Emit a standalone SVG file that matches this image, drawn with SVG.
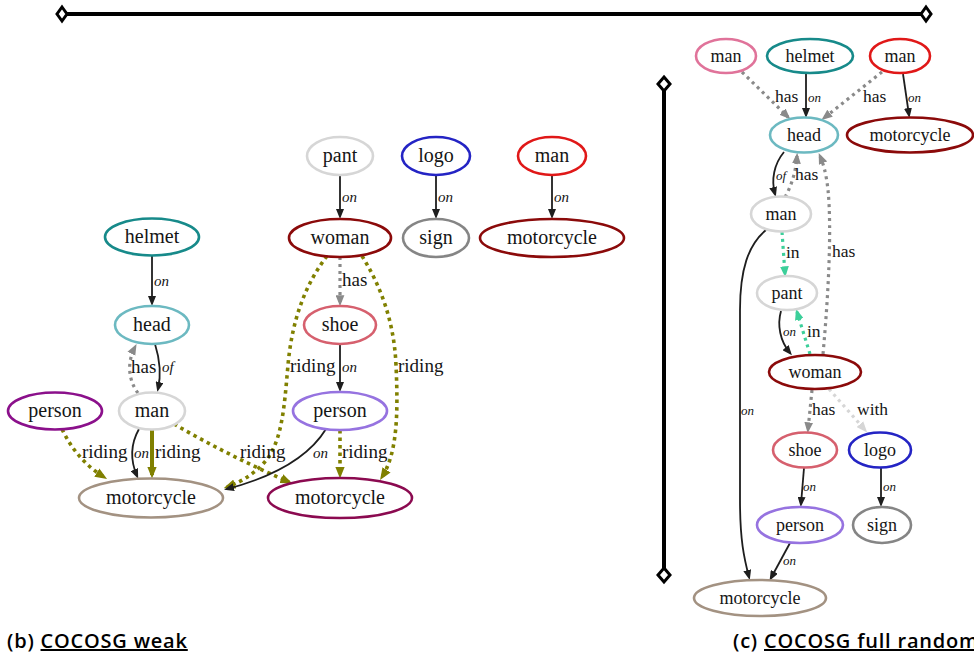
<svg xmlns="http://www.w3.org/2000/svg" width="974" height="655" viewBox="0 0 974 655">
  <style>
    .node ellipse { fill: #fff; stroke-width: 2.6; }
    text { font-family: 'Liberation Serif', 'Times New Roman', serif; fill: #151515; }
    .nl { font-size: 20px; text-anchor: middle; }
    .nr { font-size: 18px; text-anchor: middle; }
    .lab { font-size: 19px; }
    .labr { font-size: 17.5px; }
    .it { font-style: italic; font-size: 15px; }
    .itr { font-style: italic; font-size: 13px; }
    .e { fill: none; stroke: #1e1e1e; stroke-width: 1.8; }
    .olive { fill: none; stroke: #808000; stroke-width: 3.6; stroke-dasharray: 3.5 4; }
    .olive-solid { fill: none; stroke: #808000; stroke-width: 4; }
    .grey { fill: none; stroke: #8a8a8a; stroke-width: 3.2; stroke-dasharray: 3 4; }
    .green { fill: none; stroke: #3ccf9a; stroke-width: 3.2; stroke-dasharray: 3 4; }
    .light { fill: none; stroke: #d6d6d6; stroke-width: 3.2; stroke-dasharray: 3 4; }
    .rule { stroke: #000; stroke-width: 4; }
    .tip { fill: #fff; stroke: #000; stroke-width: 3; }
    text.cap { font-family: 'Open Sans', 'Noto Sans', sans-serif; font-weight: 600; font-size: 20px; letter-spacing: 0.8px; fill: #000; }
  </style>
  <defs>
    <marker id="ak" viewBox="0 0 10 8" refX="7" refY="4" markerWidth="10" markerHeight="8" markerUnits="userSpaceOnUse" orient="auto">
      <path d="M0,0 L10,4 L0,8 z" fill="#1e1e1e"/>
    </marker>
    <marker id="ao" viewBox="0 0 10 8" refX="7" refY="4" markerWidth="12" markerHeight="10" markerUnits="userSpaceOnUse" orient="auto">
      <path d="M0,0 L10,4 L0,8 z" fill="#808000"/>
    </marker>
    <marker id="ag" viewBox="0 0 10 8" refX="7" refY="4" markerWidth="11" markerHeight="9" markerUnits="userSpaceOnUse" orient="auto">
      <path d="M0,0 L10,4 L0,8 z" fill="#8a8a8a"/>
    </marker>
    <marker id="at" viewBox="0 0 10 8" refX="7" refY="4" markerWidth="11" markerHeight="9" markerUnits="userSpaceOnUse" orient="auto">
      <path d="M0,0 L10,4 L0,8 z" fill="#3ccf9a"/>
    </marker>
    <marker id="al" viewBox="0 0 10 8" refX="7" refY="4" markerWidth="11" markerHeight="9" markerUnits="userSpaceOnUse" orient="auto">
      <path d="M0,0 L10,4 L0,8 z" fill="#d6d6d6"/>
    </marker>
  </defs>

  <rect width="974" height="655" fill="#fff"/>

  <!-- section rules -->
  <g id="rules">
    <line class="rule" x1="62" y1="14" x2="926" y2="14"/>
    <path class="tip" d="M62,7 L67,14 L62,21 L57,14 z"/>
    <path class="tip" d="M926,7 L931,14 L926,21 L921,14 z"/>
    <line class="rule" x1="664" y1="84" x2="664" y2="575"/>
    <path class="tip" d="M664,77 L670,84 L664,91 L658,84 z"/>
    <path class="tip" d="M664,568 L670,575 L664,582 L658,575 z"/>
  </g>

  <!-- connectors: weak graph -->
  <g id="edges-weak">
    <path class="e" d="M152,256 L152,303" marker-end="url(#ak)"/>
    <path class="e" d="M155,344 C160,360 161,376 158,389" marker-end="url(#ak)"/>
    <path class="grey" d="M138,393 C128,380 127,362 135,347" marker-end="url(#ag)"/>
    <path class="e" d="M139,429 C130,445 131,462 137,476" marker-end="url(#ak)"/>
    <path class="olive-solid" d="M152,430 L152,475" marker-end="url(#ao)"/>
    <path class="olive" d="M62,429 C72,450 86,466 104,477" marker-end="url(#ao)"/>
    <path class="olive" d="M174,424 C210,445 250,465 289,482" marker-end="url(#ao)"/>
    <path class="olive" d="M327,256 C305,285 292,320 288,365 C284,410 282,445 262,465 C250,477 238,483 227,487" marker-end="url(#ao)"/>
    <path class="e" d="M326,429 C310,455 280,475 227,489" marker-end="url(#ak)"/>
    <path class="olive" d="M340,430 L340,475" marker-end="url(#ao)"/>
    <path class="olive" d="M362,256 C380,285 394,320 396,365 C398,410 398,452 382,477" marker-end="url(#ao)"/>
    <path class="grey" d="M340,257 L340,303" marker-end="url(#ag)"/>
    <path class="e" d="M340,344 L340,389" marker-end="url(#ak)"/>
    <path class="e" d="M340,175 L340,216" marker-end="url(#ak)"/>
    <path class="e" d="M436,175 L436,216" marker-end="url(#ak)"/>
    <path class="e" d="M552,175 L552,216" marker-end="url(#ak)"/>

    <text class="lab it" x="154" y="286">on</text>
    <text class="lab it" x="162" y="372">of</text>
    <text class="lab" x="131" y="373">has</text>
    <text class="lab it" x="134" y="458">on</text>
    <text class="lab" x="155" y="458">riding</text>
    <text class="lab" x="82" y="458">riding</text>
    <text class="lab" x="240" y="458">riding</text>
    <text class="lab" x="290" y="372">riding</text>
    <text class="lab it" x="313" y="458">on</text>
    <text class="lab" x="342" y="458">riding</text>
    <text class="lab" x="398" y="372">riding</text>
    <text class="lab" x="342" y="286">has</text>
    <text class="lab it" x="342" y="372">on</text>
    <text class="lab it" x="342" y="202">on</text>
    <text class="lab it" x="438" y="202">on</text>
    <text class="lab it" x="554" y="202">on</text>
  </g>

  <!-- nodes: weak graph -->
  <g id="w-helmet" class="node"><ellipse cx="152" cy="237" rx="47" ry="18.5" stroke="#178a8a"/><text class="nl" x="152" y="243">helmet</text></g>
  <g id="w-head" class="node"><ellipse cx="152" cy="325" rx="37" ry="19" stroke="#6cb9c1"/><text class="nl" x="152" y="331">head</text></g>
  <g id="w-man" class="node"><ellipse cx="152" cy="411" rx="33" ry="18.5" stroke="#d6d6d6"/><text class="nl" x="152" y="417">man</text></g>
  <g id="w-person" class="node"><ellipse cx="55" cy="411" rx="47" ry="18.5" stroke="#8b108b"/><text class="nl" x="55" y="417">person</text></g>
  <g id="w-motorcycle-a" class="node"><ellipse cx="151" cy="498" rx="72" ry="19.5" stroke="#a39282"/><text class="nl" x="151" y="504">motorcycle</text></g>
  <g id="w-pant" class="node"><ellipse cx="340" cy="156" rx="33" ry="19" stroke="#d6d6d6"/><text class="nl" x="340" y="162">pant</text></g>
  <g id="w-logo" class="node"><ellipse cx="436" cy="156" rx="34" ry="19" stroke="#2424c4"/><text class="nl" x="436" y="162">logo</text></g>
  <g id="w-man-b" class="node"><ellipse cx="552" cy="156" rx="34" ry="19" stroke="#e01818"/><text class="nl" x="552" y="162">man</text></g>
  <g id="w-woman" class="node"><ellipse cx="340" cy="238" rx="51" ry="19" stroke="#8b0a0a"/><text class="nl" x="340" y="244">woman</text></g>
  <g id="w-sign" class="node"><ellipse cx="436" cy="238" rx="33" ry="19" stroke="#858585"/><text class="nl" x="436" y="244">sign</text></g>
  <g id="w-motorcycle-b" class="node"><ellipse cx="552" cy="238" rx="72" ry="19" stroke="#8b0a0a"/><text class="nl" x="552" y="244">motorcycle</text></g>
  <g id="w-shoe" class="node"><ellipse cx="340" cy="325" rx="36" ry="19" stroke="#d6606e"/><text class="nl" x="340" y="331">shoe</text></g>
  <g id="w-person-b" class="node"><ellipse cx="340" cy="411" rx="47" ry="19" stroke="#9673e0"/><text class="nl" x="340" y="417">person</text></g>
  <g id="w-motorcycle-c" class="node"><ellipse cx="340" cy="498" rx="72" ry="20" stroke="#8b0a50"/><text class="nl" x="340" y="504">motorcycle</text></g>

  <!-- connectors: full random graph -->
  <g id="edges-random">
    <path class="grey" d="M742,72 L788,117" marker-end="url(#ag)"/>
    <path class="e" d="M806,73 L806,115" marker-end="url(#ak)"/>
    <path class="grey" d="M882,72 L824,118" marker-end="url(#ag)"/>
    <path class="e" d="M903,74 L909,115" marker-end="url(#ak)"/>
    <path class="e" d="M784,152 C774,164 771,180 775,194" marker-end="url(#ak)"/>
    <path class="grey" d="M785,197 C792,185 796,170 797,156" marker-end="url(#ag)"/>
    <path class="grey" d="M823,354 C828,300 832,230 828,190 C826,172 823,163 820,156" marker-end="url(#ag)"/>
    <path class="green" d="M782,232 L785,274" marker-end="url(#at)"/>
    <path class="e" d="M781,311 C777,325 780,341 790,353" marker-end="url(#ak)"/>
    <path class="green" d="M810,354 L797,312" marker-end="url(#at)"/>
    <path class="e" d="M766,230 C748,245 740,270 740,310 L740,500 C740,540 744,558 749,577" marker-end="url(#ak)"/>
    <path class="grey" d="M812,390 L808,430" marker-end="url(#ag)"/>
    <path class="light" d="M829,389 L865,430" marker-end="url(#al)"/>
    <path class="e" d="M804,468 L801,504" marker-end="url(#ak)"/>
    <path class="e" d="M881,468 L881,504" marker-end="url(#ak)"/>
    <path class="e" d="M790,543 L771,578" marker-end="url(#ak)"/>

    <text class="labr" x="775" y="102">has</text>
    <text class="labr itr" x="808" y="102">on</text>
    <text class="labr" x="863" y="102">has</text>
    <text class="labr itr" x="908" y="102">on</text>
    <text class="labr itr" x="776" y="180">of</text>
    <text class="labr" x="795" y="180">has</text>
    <text class="labr" x="832" y="257">has</text>
    <text class="labr" x="786" y="258">in</text>
    <text class="labr itr" x="783" y="336">on</text>
    <text class="labr" x="807" y="337">in</text>
    <text class="labr itr" x="741" y="415">on</text>
    <text class="labr" x="812" y="415">has</text>
    <text class="labr" x="857" y="415">with</text>
    <text class="labr itr" x="803" y="491">on</text>
    <text class="labr itr" x="883" y="491">on</text>
    <text class="labr itr" x="783" y="565">on</text>
  </g>

  <!-- nodes: full random graph -->
  <g id="r-man-a" class="node"><ellipse cx="726" cy="56" rx="30" ry="17" stroke="#e0739a"/><text class="nr" x="726" y="61.5">man</text></g>
  <g id="r-helmet" class="node"><ellipse cx="810" cy="56" rx="43" ry="17" stroke="#178a8a"/><text class="nr" x="810" y="61.5">helmet</text></g>
  <g id="r-man-b" class="node"><ellipse cx="900" cy="56" rx="30" ry="17" stroke="#e01818"/><text class="nr" x="900" y="61.5">man</text></g>
  <g id="r-head" class="node"><ellipse cx="804" cy="135" rx="34" ry="17.5" stroke="#6cb9c1"/><text class="nr" x="804" y="140.5">head</text></g>
  <g id="r-motorcycle-a" class="node"><ellipse cx="910" cy="135" rx="63" ry="17.5" stroke="#8b0a0a"/><text class="nr" x="910" y="140.5">motorcycle</text></g>
  <g id="r-man-c" class="node"><ellipse cx="781" cy="214" rx="30" ry="17.5" stroke="#d6d6d6"/><text class="nr" x="781" y="219.5">man</text></g>
  <g id="r-pant" class="node"><ellipse cx="787" cy="293" rx="30" ry="17" stroke="#d6d6d6"/><text class="nr" x="787" y="298.5">pant</text></g>
  <g id="r-woman" class="node"><ellipse cx="815" cy="372" rx="46" ry="17" stroke="#8b0a0a"/><text class="nr" x="815" y="377.5">woman</text></g>
  <g id="r-shoe" class="node"><ellipse cx="805" cy="450" rx="32" ry="17.5" stroke="#d6606e"/><text class="nr" x="805" y="455.5">shoe</text></g>
  <g id="r-logo" class="node"><ellipse cx="880" cy="450" rx="31" ry="17.5" stroke="#2424c4"/><text class="nr" x="880" y="455.5">logo</text></g>
  <g id="r-person" class="node"><ellipse cx="800" cy="525" rx="43" ry="18" stroke="#9673e0"/><text class="nr" x="800" y="530.5">person</text></g>
  <g id="r-sign" class="node"><ellipse cx="882" cy="525" rx="29" ry="18" stroke="#858585"/><text class="nr" x="882" y="530.5">sign</text></g>
  <g id="r-motorcycle-b" class="node"><ellipse cx="760" cy="598" rx="66" ry="18" stroke="#a39282"/><text class="nr" x="760" y="603.5">motorcycle</text></g>

  <!-- captions -->
  <text class="cap" x="7" y="648">(b) <tspan text-decoration="underline">COCOSG weak</tspan></text>
  <text class="cap" x="733" y="648">(c) <tspan text-decoration="underline">COCOSG full random</tspan></text>
</svg>
